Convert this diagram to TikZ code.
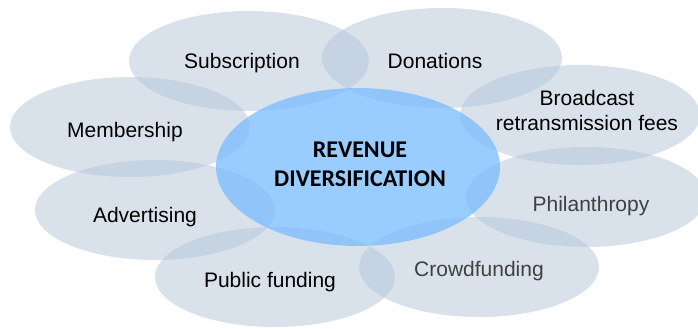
\documentclass[tikz,border=0pt]{standalone}
\usepackage{fontspec}
\setmainfont{Liberation Sans}
\newfontfamily\hubfont{Carlito}
\usetikzlibrary{shapes.geometric}
\definecolor{PetalBlue}{RGB}{179,196,216}
\definecolor{HubBlue}{RGB}{128,191,255}
\definecolor{SoftText}{HTML}{404040}

\begin{document}
\begin{tikzpicture}[x=0.5pt, y=-0.5pt,
    petal/.style={ellipse, fill=PetalBlue, fill opacity=0.5,
                  minimum width=120pt, minimum height=50pt, inner sep=0pt},
    hub/.style={ellipse, fill=HubBlue, fill opacity=0.8,
                minimum width=142pt, minimum height=79pt, inner sep=0pt},
    lbl/.style={anchor=base, inner sep=0pt, font=\fontsize{10.5}{12.5}\selectfont}]
    \clip (0,0) rectangle (698,328);
    % petals round the hub
    \node[petal] (sub) at (249,61) {};
    \node[petal] (don) at (442,58) {};
    \node[petal] (bro) at (580,115) {};
    \node[petal] (phi) at (586,197) {};
    \node[petal] (cro) at (479,267) {};
    \node[petal] (pub) at (275,277) {};
    \node[petal] (adv) at (155,210) {};
    \node[petal] (mem) at (130,127) {};
    % hub
    \node[hub] (rev) at (358,167) {};
    % labels
    \node[lbl] (subtxt) at (242,68) {Subscription};
    \node[lbl] (dontxt) at (435,68) {Donations};
    \node[lbl, anchor=center, align=center] (brotxt) at (587,110) {Broadcast\\retransmission fees};
    \node[lbl, text=SoftText] (phitxt) at (591,211) {Philanthropy};
    \node[lbl, text=SoftText] (crotxt) at (479,276) {Crowdfunding};
    \node[lbl] (pubtxt) at (270,287) {Public funding};
    \node[lbl] (advtxt) at (145,222) {Advertising};
    \node[lbl] (memtxt) at (125,137) {Membership};
    \node[align=center, inner sep=0pt, font=\hubfont\bfseries\fontsize{12}{14.5}\selectfont]
        (revtxt) at (360,164) {REVENUE\\DIVERSIFICATION};
\end{tikzpicture}
\end{document}
